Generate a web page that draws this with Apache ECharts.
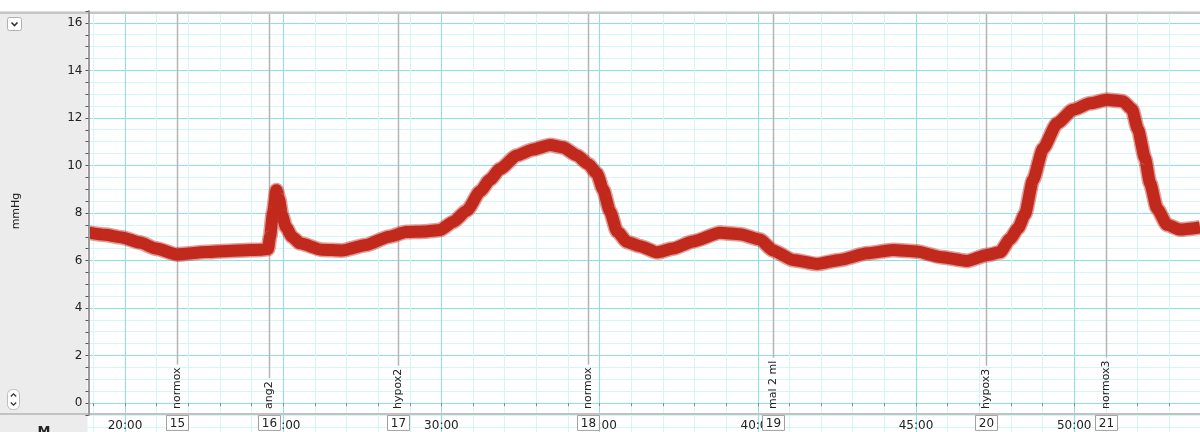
<!DOCTYPE html>
<html>
<head>
<meta charset="utf-8">
<script src="https://cdn.jsdelivr.net/npm/echarts@6/dist/echarts.min.js"></script>
<style>
  html, body { margin: 0; padding: 0; background: #ffffff; }
  #chart { width: 1200px; height: 432px; }
</style>
</head>
<body>
<div id="chart"></div>
<script>
// ---- data (time in minutes, pressure in mmHg) ----
const times = [
  18.862, 19.368, 19.905, 20.474, 20.98, 21.643, 22.56, 23.603, 24.33, 24.52,
  24.583, 24.678, 24.788, 24.867, 24.962, 25.088, 25.278, 25.531, 26.226, 26.858,
  27.617, 28.344, 28.881, 29.482, 29.956, 30.367, 30.809, 31.22, 31.536, 31.852,
  32.389, 32.895, 33.432, 33.843, 34.286, 34.634, 34.918, 35.107, 35.329, 35.55,
  35.866, 36.277, 36.814, 37.32, 37.952, 38.805, 39.437, 40.069, 40.48, 41.112,
  41.871, 42.598, 43.451, 44.273, 45.032, 45.758, 46.612, 47.244, 47.655, 47.971,
  48.224, 48.445, 48.698, 49.014, 49.457, 49.962, 50.499, 51.037, 51.542, 51.827,
  52.016, 52.238, 52.396, 52.617, 52.933, 53.344, 53.976
];
const pressure = [
  7.17, 7.08, 6.97, 6.75, 6.5, 6.25, 6.35, 6.42, 6.45, 6.48,
  7.0, 8.0, 8.95, 8.6, 7.9, 7.4, 7.0, 6.72, 6.45, 6.42,
  6.65, 7.0, 7.2, 7.22, 7.28, 7.62, 8.1, 8.9, 9.4, 9.85,
  10.42, 10.67, 10.86, 10.76, 10.42, 10.06, 9.66, 9.0, 8.06, 7.22,
  6.78, 6.6, 6.34, 6.5, 6.8, 7.16, 7.1, 6.88, 6.42, 6.02,
  5.85, 6.02, 6.3, 6.44, 6.38, 6.15, 5.98, 6.23, 6.34, 6.9,
  7.35, 7.95, 9.39, 10.7, 11.77, 12.34, 12.61, 12.76, 12.7, 12.36,
  11.5, 10.3, 9.26, 8.19, 7.5, 7.3, 7.39
];
const markerTimes  = [21.653, 24.561, 28.619, 34.624, 40.49, 47.212, 51.005];
const markerLabels = ['normox', 'ang2', 'hypox2', 'normox', 'mal 2 ml', 'hypox3', 'normox3'];
const markerNums   = [15, 16, 17, 18, 19, 20, 21];
const yTickLabels  = [0, 2, 4, 6, 8, 10, 12, 14, 16];
const xTickLabels  = [20, 25, 30, 35, 40, 45, 50];

// ---- styling ----
const FONT = '"DejaVu Sans", sans-serif';
const MAJOR = '#8ae2e9';
const MINOR = '#d5f5f7';
const TRACE = '#c2291d';
const Y_TOP_VALUE = 16.38;
const Y_BOTTOM_VALUE = -0.5;

const measureCtx = document.createElement('canvas').getContext('2d');
function textWidth(s, font) { measureCtx.font = font; return measureCtx.measureText(s).width; }

const chart = echarts.init(document.getElementById('chart'), null, { renderer: 'canvas' });

const PX_MIN = 31.64, PX_UNIT = 23.765;
const option = {
  animation: false,
  backgroundColor: '#ffffff',
  grid: [
    { left: 125 - 5 * PX_MIN, width: 40 * PX_MIN, top: 403.03 - 18 * PX_UNIT, height: 20 * PX_UNIT,
      containLabel: false, outerBoundsMode: 'none' },
    { left: 125 - 2 * PX_MIN, width: 36 * PX_MIN, top: 11, height: 17 * PX_UNIT,
      containLabel: false, outerBoundsMode: 'none' },
    { left: 88.5, width: 1111.5, top: 11, height: 17 * PX_UNIT,
      containLabel: false, outerBoundsMode: 'none' }
  ],
  xAxis: [
    {
      type: 'value', gridIndex: 0, min: 15, max: 55, interval: 5,
      axisLine: { show: false }, axisTick: { show: false }, axisLabel: { show: false },
      minorTick: { show: false, splitNumber: 5 },
      splitLine: { show: true, lineStyle: { color: MAJOR, width: 1 } },
      minorSplitLine: { show: true, lineStyle: { color: MINOR, width: 1 } }
    },
    {
      type: 'value', gridIndex: 1, min: 18, max: 54, interval: 1,
      axisLine: { show: false },
      axisTick: { show: true, inside: false, length: 3, lineStyle: { color: '#888', width: 1 } },
      axisLabel: {
        margin: 5, color: '#222', fontSize: 12, fontFamily: FONT,
        formatter: function (v) {
          const r = Math.round(v);
          return xTickLabels.indexOf(r) >= 0 && Math.abs(v - r) < 1e-6 ? r + ':00' : '';
        }
      },
      splitLine: { show: false }
    },
    { type: 'value', gridIndex: 2, min: 0, max: 1, show: false }
  ],
  yAxis: [
    {
      type: 'value', gridIndex: 0, min: -2, max: 18, interval: 2,
      axisLine: { show: false }, axisTick: { show: false }, axisLabel: { show: false },
      minorTick: { show: false, splitNumber: 4 },
      splitLine: { show: true, lineStyle: { color: MAJOR, width: 1 } },
      minorSplitLine: { show: true, lineStyle: { color: MINOR, width: 1 } }
    },
    { type: 'value', gridIndex: 1, min: -0.5, max: 16.5, show: false },
    {
      type: 'value', gridIndex: 2, min: -0.5, max: 16.5, interval: 0.5, z: 10,
      axisLine: { show: true, lineStyle: { color: '#9c9c9c', width: 2 } },
      axisTick: { show: true, inside: false, length: 3, lineStyle: { color: '#555', width: 1 } },
      axisLabel: {
        margin: 6, color: '#222', fontSize: 12, fontFamily: FONT,
        formatter: function (v) {
          const r = Math.round(v);
          return yTickLabels.indexOf(r) >= 0 && Math.abs(v - r) < 1e-6 ? String(r) : '';
        }
      },
      splitLine: { show: false }
    }
  ],
  graphic: [
    { type: 'rect', z: 6, shape: { x: 0, y: 0, width: 1200, height: 11.5 }, style: { fill: '#ffffff' } },
    { type: 'rect', z: 6, shape: { x: 0, y: 11.5, width: 1200, height: 2.5 }, style: { fill: '#c6c6c6' } },
    { type: 'rect', z: 6, shape: { x: 0, y: 14, width: 87.5, height: 418 }, style: { fill: '#ececec' } },
    { type: 'rect', z: 7, shape: { x: 0, y: 413, width: 1200, height: 2 }, style: { fill: '#c2c2c2' } },
    { type: 'rect', z: 7, shape: { x: 7.5, y: 17.5, width: 14, height: 13, r: 2 }, style: { fill: '#ffffff', stroke: '#b0b0b0', lineWidth: 1 } },
    { type: 'polyline', z: 8, shape: { points: [[11.5, 22.5], [14.5, 25.5], [17.5, 22.5]] }, style: { stroke: '#333', lineWidth: 1.6, fill: null } },
    { type: 'rect', z: 7, shape: { x: 7.5, y: 389.5, width: 12, height: 20, r: 5 }, style: { fill: '#ffffff', stroke: '#bdbdbd', lineWidth: 1 } },
    { type: 'polyline', z: 8, shape: { points: [[10.8, 396.5], [13.5, 393.8], [16.2, 396.5]] }, style: { stroke: '#333', lineWidth: 1.3, fill: null } },
    { type: 'polyline', z: 8, shape: { points: [[10.8, 402.5], [13.5, 405.2], [16.2, 402.5]] }, style: { stroke: '#333', lineWidth: 1.3, fill: null } },
    { type: 'text', z: 8, x: 16, y: 211, rotation: Math.PI / 2,
      style: { text: 'mmHg', align: 'center', verticalAlign: 'middle', font: '11px ' + FONT, fill: '#222' } },
    { type: 'text', z: 8, x: 44, y: 425, style: { text: 'M', align: 'center', verticalAlign: 'top', font: 'bold 13px ' + FONT, fill: '#222' } }
  ],
  series: [
    {
      type: 'custom', name: 'markers', xAxisIndex: 0, yAxisIndex: 0, z: 3, clip: false,
      data: markerTimes.map(function (t) { return [t, 0]; }),
      renderItem: function (params, api) {
        const idx = params.dataIndex;
        const t = api.value(0);
        const p = api.coord([t, 0]);
        const x = Math.round(p[0]) + 0.5;
        const startY = p[1] + 6;
        const label = markerLabels[idx];
        const font = '11px ' + FONT;
        const w = textWidth(label, font);
        const top = api.coord([t, Y_TOP_VALUE])[1];
        const bottom = api.coord([t, Y_BOTTOM_VALUE])[1];
        return {
          type: 'group',
          children: [
            { type: 'line', shape: { x1: x, y1: top, x2: x, y2: startY - w - 3 }, style: { stroke: '#b4b4b4', lineWidth: 1.5 } },
            { type: 'text', x: x, y: startY, rotation: Math.PI / 2,
              style: { text: label, x: 0, y: 0, align: 'left', verticalAlign: 'middle', font: font, fill: '#222' } },
            { type: 'rect', shape: { x: x - 11, y: bottom + 0.5, width: 22, height: 15 }, style: { fill: '#ffffff', stroke: '#a0a0a0', lineWidth: 1 } },
            { type: 'text', x: x, y: bottom + 8.5,
              style: { text: String(markerNums[idx]), x: 0, y: 0, align: 'center', verticalAlign: 'middle', font: '12px ' + FONT, fill: '#222' } }
          ]
        };
      }
    },
    {
      type: 'line', name: 'pressure-halo', xAxisIndex: 0, yAxisIndex: 0, z: 4,
      data: times.map(function (t, i) { return [t, pressure[i]]; }),
      symbol: 'none', smooth: 0.2, smoothMonotone: 'x', silent: true,
      lineStyle: { color: TRACE, width: 15, opacity: 0.45, join: 'round', cap: 'butt' }
    },
    {
      type: 'line', name: 'pressure', xAxisIndex: 0, yAxisIndex: 0, z: 5,
      data: times.map(function (t, i) { return [t, pressure[i]]; }),
      symbol: 'none', smooth: 0.2, smoothMonotone: 'x',
      lineStyle: { color: TRACE, width: 12, join: 'round', cap: 'butt' }
    }
  ]
};
chart.setOption(option);
</script>
</body>
</html>
